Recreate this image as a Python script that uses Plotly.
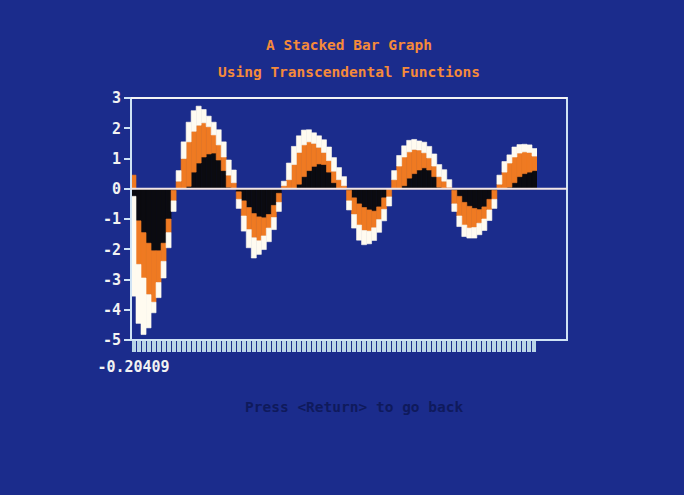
import plotly.graph_objects as go

# ---- data (stacked components per bar) ----
black_values = [
    -0.25, -1.06, -1.45, -1.8, -2.05, -2.05, -1.8, -1.0, -0.05,
    0.0, 0.02, 0.08, 0.55, 0.85, 1.05, 1.15, 1.18, 0.95, 0.6, 0.05, 0.0,
    -0.1, -0.4, -0.62, -0.82, -0.93, -0.96, -0.85, -0.55, -0.15,
    0.0, 0.0, 0.02, 0.15, 0.4, 0.6, 0.74, 0.82, 0.8, 0.55, 0.2, 0.0, 0.0,
    -0.05, -0.3, -0.5, -0.62, -0.7, -0.74, -0.6, -0.3, -0.02,
    0.0, 0.0, 0.1, 0.35, 0.5, 0.62, 0.69, 0.62, 0.4, 0.05, 0.0, 0.0,
    -0.05, -0.25, -0.45, -0.58, -0.65, -0.69, -0.6, -0.35, -0.05,
    0.0, 0.0, 0.05, 0.2, 0.4, 0.5, 0.55, 0.6,
]
orange_values = [
    0.45, -1.44, -1.5, -1.7, -1.7, -1.05, -0.6, -0.45, -0.35,
    0.25, 0.98, 1.47, 1.35, 1.25, 1.13, 0.9, 0.6, 0.5, 0.45, 0.4, 0.2,
    -0.25, -0.5, -0.73, -0.8, -0.79, -0.6, -0.45, -0.4, -0.3,
    0.1, 0.3, 0.78, 1.05, 1.05, 0.95, 0.76, 0.55, 0.4, 0.38, 0.38, 0.3, 0.1,
    -0.35, -0.55, -0.7, -0.76, -0.7, -0.55, -0.42, -0.38, -0.25,
    0.3, 0.75, 0.95, 0.87, 0.8, 0.66, 0.5, 0.4, 0.35, 0.35, 0.25, 0.05,
    -0.45, -0.65, -0.75, -0.72, -0.63, -0.45, -0.4, -0.35, -0.3,
    0.15, 0.55, 0.8, 0.85, 0.78, 0.72, 0.65, 0.48,
]
white_values = [
    -3.3, -1.95, -1.87, -1.1, -0.35, -0.5, -0.55, -0.5, -0.35,
    0.35, 0.55, 0.65, 0.68, 0.63, 0.44, 0.35, 0.42, 0.5, 0.5, 0.5, 0.42,
    -0.3, -0.5, -0.6, -0.67, -0.45, -0.45, -0.45, -0.4, -0.3,
    0.15, 0.55, 0.6, 0.55, 0.49, 0.4, 0.35, 0.38, 0.42, 0.45, 0.45, 0.4, 0.3,
    -0.3, -0.45, -0.5, -0.47, -0.42, -0.42, -0.42, -0.38, -0.3,
    0.3, 0.35, 0.37, 0.38, 0.33, 0.3, 0.35, 0.38, 0.4, 0.4, 0.38, 0.25,
    -0.25, -0.35, -0.38, -0.33, -0.35, -0.38, -0.38, -0.35, -0.3,
    0.3, 0.35, 0.27, 0.33, 0.28, 0.25, 0.25, 0.25,
]
bar_slots = list(range(len(black_values)))
x_tick_positions = [0]
x_tick_labels = ["-0.20409"]
y_tick_values = [-5, -4, -3, -2, -1, 0, 1, 2, 3]
y_tick_labels = ["-5", "-4", "-3", "-2", "-1", "0", "1", "2", "3"]
title_lines = ["A Stacked Bar Graph", "Using Transcendental Functions"]
footer_text = "Press &lt;Return&gt; to go back"

# ---- styles ----
BG = "#1b2c8c"
FRAME = "#cfe3f5"
BAND = "#b9d5e6"
MONO = "DejaVu Sans Mono"
series = [
    ("black", black_values, "#0b0b10"),
    ("orange", orange_values, "#ef7a22"),
    ("white", white_values, "#fffbf0"),
]

fig = go.Figure()
for name, vals, col in series:
    fig.add_trace(go.Bar(
        x=bar_slots, y=vals, name=name, width=1,
        marker=dict(color=col, line=dict(color=col, width=0.6)),
        hoverinfo="skip", showlegend=False,
    ))

W, H = 684, 495
L, R, T, B = 131, 684 - 537, 98, 495 - 340
plot_w = W - L - R
plot_h = H - T - B
frame_right = (567 - L) / plot_w


def py(pix_y):
    return (H - B - pix_y) / plot_h


def px(pix_x):
    return (pix_x - L) / plot_w


fig.update_layout(
    width=W, height=H, autosize=False,
    margin=dict(l=L, r=R, t=T, b=B, pad=0),
    paper_bgcolor=BG, plot_bgcolor=BG,
    barmode="relative", bargap=0,
    showlegend=False,
    xaxis=dict(
        range=[-0.5, len(bar_slots) - 0.5], automargin=False,
        showgrid=False, zeroline=False, showline=False,
        tickmode="array", tickvals=x_tick_positions, ticktext=x_tick_labels,
        ticks="outside", ticklen=11, tickwidth=4, tickcolor=BAND,
        minor=dict(tickmode="array", tickvals=bar_slots, ticks="outside",
                   ticklen=11, tickwidth=4, tickcolor=BAND, showgrid=False),
        tickfont=dict(family=MONO, size=15, color="#f2f2f2", weight=700),
        ticklabelstandoff=2,
    ),
    yaxis=dict(
        range=[-5, 3], automargin=False,
        showgrid=False, zeroline=False, showline=False,
        tickmode="array", tickvals=y_tick_values, ticktext=y_tick_labels,
        ticks="outside", ticklen=6, tickwidth=2, tickcolor=FRAME,
        tickfont=dict(family=MONO, size=15, color="#f2f2f2", weight=700),
    ),
    shapes=[
        dict(type="rect", xref="paper", yref="paper", x0=0, x1=frame_right,
             y0=0, y1=1, line=dict(color=FRAME, width=2), layer="above"),
        dict(type="line", xref="paper", yref="paper", x0=0, x1=frame_right,
             y0=1, y1=1, line=dict(color="#f4f4f4", width=2), layer="above"),
        dict(type="line", xref="paper", yref="paper", x0=0, x1=frame_right,
             y0=5 / 8, y1=5 / 8, line=dict(color="#f3e6e6", width=2), layer="above"),
    ],
    annotations=[
        dict(text=title_lines[0], xref="paper", yref="paper", x=px(349), y=py(45),
             showarrow=False, xanchor="center", yanchor="middle",
             font=dict(family=MONO, size=14.5, color="#f58a3a", weight=700)),
        dict(text=title_lines[1], xref="paper", yref="paper", x=px(349), y=py(72),
             showarrow=False, xanchor="center", yanchor="middle",
             font=dict(family=MONO, size=14.5, color="#f58a3a", weight=700)),
        dict(text=footer_text, xref="paper", yref="paper", x=px(354), y=py(407),
             showarrow=False, xanchor="center", yanchor="middle",
             font=dict(family=MONO, size=14.5, color="#0f1a5c", weight=700)),
    ],
)

fig.write_html("out.html", config={"displayModeBar": False, "staticPlot": True})

# remove the browser's default page margin so the figure fills the window
with open("out.html", "r", encoding="utf-8") as f:
    page = f.read()
page = page.replace(
    "<head>",
    "<head><style>html,body{margin:0;padding:0;background:%s;overflow:hidden;}</style>" % BG,
    1,
)
with open("out.html", "w", encoding="utf-8") as f:
    f.write(page)
